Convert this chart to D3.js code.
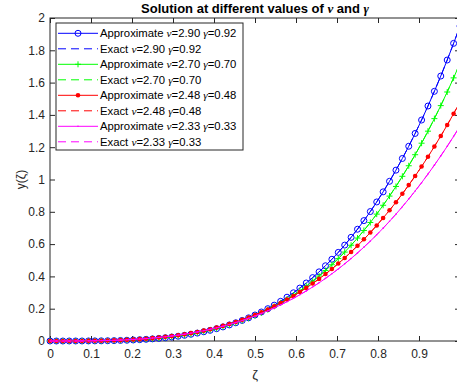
<!DOCTYPE html>
<html>
<head>
<meta charset="utf-8">
<script src="https://cdn.jsdelivr.net/npm/d3@7"></script>
<style>
  body { margin: 0; background: white; }
  text { font-family: "Liberation Sans", Arial, sans-serif; }
</style>
</head>
<body>
<div id="chart"></div>
<script>
var svgWidth = 457;
var svgHeight = 387;

// plot box (x = 1 sits just past the right edge of the window)
var box = { left: 50, top: 18, right: 460, bottom: 341 };

// grid of zeta values (step 1/64)
var zeta = [0, .0156, .0313, .0469, .0625, .0781, .0938, .1094, .125, .1406, .1563, .1719, .1875, .2031, .2188, .2344,
  .25, .2656, .2813, .2969, .3125, .3281, .3438, .3594, .375, .3906, .4063, .4219, .4375, .4531, .4688, .4844,
  .5, .5156, .5313, .5469, .5625, .5781, .5938, .6094, .625, .6406, .6563, .6719, .6875, .7031, .7188, .7344,
  .75, .7656, .7813, .7969, .8125, .8281, .8438, .8594, .875, .8906, .9063, .9219, .9375, .9531, .9688, .9844, 1];

var nuValues = [2.90, 2.70, 2.48, 2.33];
var gammaValues = [0.92, 0.70, 0.48, 0.33];

// y(zeta), one list per (nu, gamma) pair
var yBlue = [0, 0, 0, .0001, .0001, .0002, .0004, .0007, .0011, .0017, .0024, .0034, .0047, .0063, .0082, .0105,
  .0133, .0165, .0203, .0246, .0296, .0353, .0417, .0490, .0571, .0661, .0762, .0872, .0994, .1128, .1274, .1434,
  .1609, .1796, .2001, .2219, .2457, .2712, .2985, .3278, .3592, .3925, .4282, .4659, .5060, .5487, .5938, .6419,
  .6921, .7455, .8016, .8609, .9235, .9888, 1.0579, 1.1302, 1.2059, 1.2852, 1.3683, 1.4551, 1.5460, 1.6405, 1.7398, 1.8429, 1.95];
var yGreen = [0, 0, 0, 0, .0001, .0003, .0005, .0008, .0013, .0020, .0028, .0040, .0053, .0070, .0091, .0115,
  .0144, .0177, .0216, .0261, .0311, .0368, .0432, .0504, .0583, .0672, .0769, .0876, .0993, .1121, .1260, .1410,
  .1574, .1751, .1941, .2145, .2363, .2596, .2848, .3113, .3398, .3702, .4023, .4363, .4721, .5103, .5506, .5929,
  .6374, .6844, .7339, .7857, .8404, .8973, .9570, 1.0198, 1.0851, 1.1534, 1.2248, 1.2993, 1.3769, 1.4575, 1.5418, 1.6292, 1.72];
var yRed = [0, 0, 0, .0001, .0002, .0004, .0008, .0012, .0019, .0028, .0039, .0053, .0070, .0090, .0114, .0143,
  .0175, .0213, .0256, .0304, .0358, .0419, .0486, .0560, .0641, .0731, .0829, .0935, .1051, .1176, .1310, .1454,
  .1610, .1776, .1955, .2146, .2349, .2562, .2791, .3034, .3289, .3559, .3845, .4144, .4462, .4795, .5143, .5512,
  .5895, .6296, .6716, .7156, .7618, .8094, .8593, .9114, .9654, 1.0216, 1.0803, 1.1409, 1.2040, 1.2692, 1.3373, 1.4075, 1.48];
var yMagenta = [0, 0, 0, .0001, .0002, .0005, .0009, .0014, .0021, .0030, .0042, .0057, .0074, .0095, .0120, .0148,
  .0181, .0218, .0261, .0308, .0361, .0420, .0486, .0557, .0636, .0722, .0815, .0916, .1025, .1143, .1270, .1406,
  .1551, .1706, .1871, .2048, .2234, .2433, .2643, .2865, .3098, .3346, .3603, .3876, .4162, .4462, .4777, .5107,
  .5452, .5811, .6187, .6578, .6988, .7412, .7854, .8315, .8793, .9289, .9803, 1.0338, 1.0889, 1.1461, 1.2055, 1.2668, 1.33];

var seriesY = [yBlue, yGreen, yRed, yMagenta];
var colors = ["#0000ff", "#00ff00", "#ff0000", "#ff00ff"];
var markers = ["circle", "plus", "dot", "point"];

var xTicks = [0, 0.1, 0.2, 0.3, 0.4, 0.5, 0.6, 0.7, 0.8, 0.9, 1];
var yTicks = [0, 0.2, 0.4, 0.6, 0.8, 1, 1.2, 1.4, 1.6, 1.8, 2];

var axisColor = "#262626";

var svg = d3.select("#chart")
  .append("svg")
  .attr("width", svgWidth)
  .attr("height", svgHeight);

svg.append("rect")
  .attr("width", svgWidth)
  .attr("height", svgHeight)
  .attr("fill", "white");

var x = d3.scaleLinear().domain([0, 1]).range([box.left, box.right]);
var y = d3.scaleLinear().domain([0, 2]).range([box.bottom, box.top]);

// axes, MATLAB style: ticks inward on all four sides
function styleAxis(g) {
  g.select(".domain").remove();
  g.selectAll("line").attr("stroke", axisColor);
  g.selectAll("text").attr("fill", axisColor).attr("font-size", "12px")
    .attr("font-family", "'Liberation Sans', Arial, sans-serif");
}

// the "1" label falls outside the window, so it is left blank
svg.append("g")
  .attr("transform", `translate(0, ${box.bottom})`)
  .call(d3.axisBottom(x).tickValues(xTicks).tickFormat(d => d < 1 ? d3.format("")(d) : "").tickSize(-5).tickPadding(8))
  .call(styleAxis);

svg.append("g")
  .attr("transform", `translate(0, ${box.top})`)
  .call(d3.axisTop(x).tickValues(xTicks).tickFormat("").tickSize(-5))
  .call(styleAxis);

svg.append("g")
  .attr("transform", `translate(${box.left}, 0)`)
  .call(d3.axisLeft(y).tickValues(yTicks).tickFormat(d3.format("")).tickSize(-5).tickPadding(5))
  .call(styleAxis);

svg.append("g")
  .attr("transform", `translate(${box.right}, 0)`)
  .call(d3.axisRight(y).tickValues(yTicks).tickFormat("").tickSize(-5))
  .call(styleAxis);

svg.append("rect")
  .attr("x", box.left)
  .attr("y", box.top)
  .attr("width", box.right - box.left)
  .attr("height", box.bottom - box.top)
  .attr("fill", "none")
  .attr("stroke", axisColor)
  .attr("stroke-width", 1);

var line = d3.line()
  .x(d => x(d[0]))
  .y(d => y(d[1]));

function drawMarker(g, kind, color) {
  if (kind === "circle") {
    g.append("circle").attr("r", 3).attr("fill", "none").attr("stroke", color).attr("stroke-width", 1);
  } else if (kind === "plus") {
    g.append("path").attr("d", "M-3,0H3M0,-3V3").attr("stroke", color).attr("stroke-width", 1);
  } else if (kind === "dot") {
    g.append("circle").attr("r", 2.3).attr("fill", color);
  } else {
    g.append("circle").attr("r", 0.8).attr("fill", color);
  }
}

var plot = svg.append("g");

seriesY.forEach(function(ys, k) {
  var pts = zeta.map((z, i) => [z, ys[i]]);

  // approximate: solid with markers
  plot.append("path")
    .datum(pts)
    .attr("fill", "none")
    .attr("stroke", colors[k])
    .attr("stroke-width", 1)
    .attr("d", line);

  plot.selectAll(null)
    .data(pts)
    .enter()
    .append("g")
    .attr("transform", d => `translate(${x(d[0])}, ${y(d[1])})`)
    .each(function() { drawMarker(d3.select(this), markers[k], colors[k]); });

  // exact: dashed
  plot.append("path")
    .datum(pts)
    .attr("fill", "none")
    .attr("stroke", colors[k])
    .attr("stroke-width", 1)
    .attr("stroke-dasharray", "8,5")
    .attr("d", line);
});

// legend
var legend = svg.append("g");
legend.append("rect")
  .attr("x", 56)
  .attr("y", 23)
  .attr("width", 187)
  .attr("height", 127)
  .attr("fill", "white")
  .attr("stroke", axisColor);

function addLabel(t, kind, nu, gamma) {
  t.append("tspan").text(kind + " ");
  t.append("tspan").attr("font-family", "'Liberation Serif', serif").attr("font-style", "italic").text("\u03bd");
  t.append("tspan").text("=" + nu.toFixed(2) + " ");
  t.append("tspan").attr("font-family", "'Liberation Serif', serif").attr("font-style", "italic").text("\u03b3");
  t.append("tspan").text("=" + gamma.toFixed(2));
}

nuValues.forEach(function(nu, k) {
  ["Approximate", "Exact"].forEach(function(kind, j) {
    var cy = 33.3 + (2 * k + j) * 15.5;
    legend.append("line")
      .attr("x1", 58).attr("x2", 98)
      .attr("y1", cy).attr("y2", cy)
      .attr("stroke", colors[k])
      .attr("stroke-dasharray", j === 1 ? "8,5" : null);
    if (j === 0) {
      var m = legend.append("g").attr("transform", `translate(78, ${cy})`);
      drawMarker(m, markers[k], colors[k]);
    }
    var t = legend.append("text")
      .attr("x", 100)
      .attr("y", cy + 4)
      .attr("font-size", "11.3px")
      .attr("fill", "#000");
    addLabel(t, kind, nu, gammaValues[k]);
  });
});

// title and axis labels
var title = svg.append("text")
  .attr("x", (box.left + box.right) / 2)
  .attr("y", 13)
  .attr("text-anchor", "middle")
  .attr("font-size", "13px")
  .attr("font-weight", "bold")
  .attr("fill", "#000");
title.append("tspan").text("Solution at different values of ");
title.append("tspan").attr("font-family", "'Liberation Serif', serif").attr("font-style", "italic").text("\u03bd");
title.append("tspan").text(" and ");
title.append("tspan").attr("font-family", "'Liberation Serif', serif").attr("font-style", "italic").text("\u03b3");

svg.append("text")
  .attr("x", (box.left + box.right) / 2)
  .attr("y", 379)
  .attr("text-anchor", "middle")
  .attr("font-size", "13px")
  .attr("fill", axisColor)
  .text("\u03b6");

svg.append("text")
  .attr("transform", `translate(25, ${(box.top + box.bottom) / 2}) rotate(-90)`)
  .attr("text-anchor", "middle")
  .attr("font-size", "12px")
  .attr("fill", axisColor)
  .text("y(\u03b6)");
</script>
</body>
</html>
